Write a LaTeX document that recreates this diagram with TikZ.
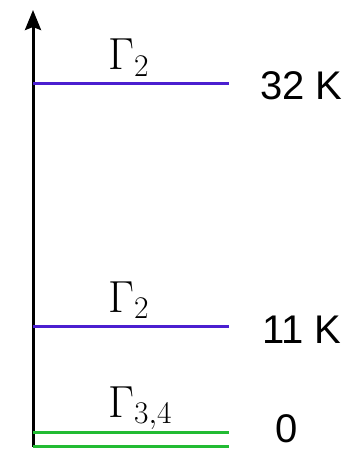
\documentclass[tikz,border=0pt]{standalone}
\usepackage{fix-cm}
\usepackage{fontspec}
\newfontfamily\lblfont{Liberation Sans}
\usepackage{xcolor}
\definecolor{gtwo}{HTML}{4B1FD0}
\definecolor{gthree}{HTML}{22BB33}
\usetikzlibrary{arrows.meta,positioning}

\begin{document}
\begin{tikzpicture}[x=1pt, y=-1pt, >={Stealth[length=20pt,width=16pt,inset=3pt]}]
    \useasboundingbox (0,0) rectangle (356,449);
    \tikzset{
        level/.style={line width=3pt},
        energy/.style={anchor=base west, inner sep=0pt, font=\lblfont\fontsize{40}{48}\selectfont},
        irrep/.style={anchor=base west, inner sep=0pt, font=\fontsize{45}{52}\selectfont}
    }

    % Energy axis
    \coordinate (base) at (33,447);
    \coordinate (top) at (33,10);
    \draw[->, line width=3pt] (base) -- (top);

    % Levels
    \coordinate (L1a) at (33,84);   \coordinate (L1b) at (229,84);
    \coordinate (L2a) at (33,326);  \coordinate (L2b) at (229,326);
    \coordinate (L3a) at (33,432);  \coordinate (L3b) at (229,432);
    \coordinate (L4a) at (33,446);  \coordinate (L4b) at (229,446);
    \draw[level, gtwo] (L1a) -- (L1b);
    \draw[level, gtwo] (L2a) -- (L2b);
    \draw[level, gthree] (L3a) -- (L3b);
    \draw[level, gthree] (L4a) -- (L4b);

    % Irrep labels
    \node[irrep] (g1) at (108,70) {$\Gamma_2$};
    \node[irrep] (g2) at (108,312) {$\Gamma_2$};
    \node[irrep] (g3) at (108,417) {$\Gamma_{3,4}$};

    % Energies
    \node[energy] (e1) at (260,100) {32 K};
    \node[energy] (e2) at (262,343) {11 K};
    \node[energy] (e3) at (275,442) {0};
\end{tikzpicture}
\end{document}
